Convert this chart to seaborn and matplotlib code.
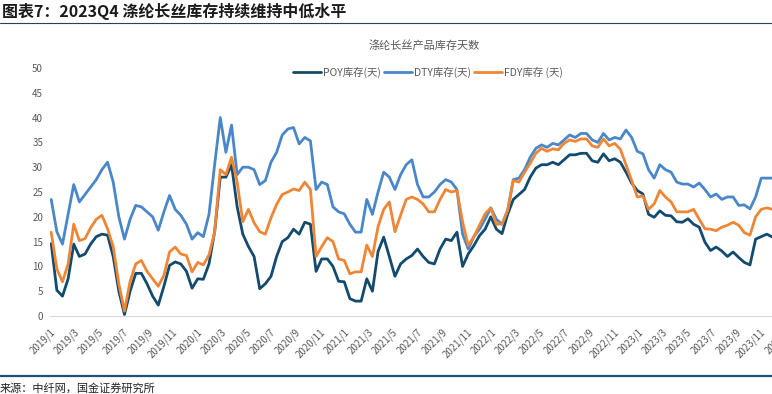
import pandas as pd
import numpy as np
import seaborn as sns
import matplotlib
matplotlib.use('Agg')
import matplotlib.pyplot as plt
import matplotlib.dates as mdates
from matplotlib.lines import Line2D
from matplotlib.ticker import FuncFormatter

# biweekly samples, 2019-01-04 .. 2023-12-01
start_date = '2019-01-04'
n_points = 129

poy = [14.6, 5.2, 4.0, 7.5, 14.5, 12.0, 12.5, 14.5, 16.0, 16.5,
       16.3, 12.0, 5.0, 0.3, 5.0, 8.6, 8.6, 6.5, 4.0, 2.2,
       6.0, 10.2, 10.9, 10.5, 9.0, 5.6, 7.5, 7.4, 10.5, 17.0,
       28.0, 28.0, 30.5, 22.0, 16.5, 14.0, 12.0, 5.5, 6.5, 8.0,
       12.0, 15.0, 15.8, 17.5, 16.5, 18.9, 18.5, 9.0, 11.5, 11.5,
       10.0, 7.0, 6.9, 3.5, 3.0, 3.0, 7.5, 5.0, 13.0, 15.9,
       12.0, 8.0, 10.5, 11.5, 12.2, 13.5, 12.0, 10.8, 10.5, 13.5,
       15.5, 15.2, 16.9, 10.0, 12.5, 14.2, 16.2, 17.5, 20.0, 17.5,
       16.6, 20.5, 23.5, 24.5, 25.5, 28.0, 29.8, 30.5, 30.5, 31.0,
       30.5, 31.5, 32.5, 32.5, 32.8, 32.8, 31.3, 31.0, 32.7, 31.3,
       31.7, 31.0, 29.0, 26.8, 25.3, 24.6, 20.5, 19.9, 21.2, 20.3,
       20.2, 19.0, 18.9, 19.6, 18.5, 17.9, 14.9, 13.2, 13.9, 13.1,
       12.0, 12.9, 11.8, 10.8, 10.3, 15.5, 16.0, 16.5, 15.9]

dty = [23.5, 17.0, 14.5, 20.5, 26.5, 23.0, 24.5, 26.0, 27.5, 29.5,
       31.0, 27.0, 20.0, 15.5, 19.5, 22.3, 22.0, 21.0, 20.0, 17.3,
       21.0, 24.3, 21.5, 20.3, 18.5, 15.5, 16.8, 16.0, 20.5, 30.5,
       40.0, 33.0, 38.5, 28.5, 30.0, 30.0, 29.5, 26.5, 27.3, 31.0,
       33.0, 36.5, 37.7, 38.0, 34.7, 36.0, 35.3, 25.5, 27.0, 26.5,
       22.0, 21.0, 20.6, 18.5, 16.9, 16.9, 23.5, 20.5, 25.0, 29.0,
       28.0, 25.5, 28.5, 30.5, 31.5, 26.5, 24.0, 24.0, 25.0, 26.5,
       27.5, 27.0, 25.5, 16.5, 13.5, 16.0, 17.5, 19.5, 21.8, 19.5,
       18.5, 21.3, 27.5, 27.8, 29.5, 32.0, 33.8, 34.5, 34.0, 34.8,
       34.5, 35.5, 36.5, 36.0, 36.8, 36.8, 35.5, 35.0, 36.8, 35.5,
       36.0, 35.7, 37.5, 36.0, 33.2, 32.7, 29.5, 27.8, 30.5, 29.5,
       29.0, 27.0, 26.6, 26.6, 26.0, 26.8, 25.5, 24.0, 24.6, 23.5,
       24.0, 24.0, 22.3, 22.4, 21.6, 24.0, 27.8, 27.8, 27.8]

fdy = [16.9, 9.5, 6.9, 10.5, 18.5, 15.2, 15.6, 17.8, 19.5, 20.3,
       17.6, 14.0, 6.5, 1.0, 7.0, 10.5, 11.2, 9.0, 7.5, 6.0,
       8.2, 12.9, 13.9, 12.5, 12.2, 8.9, 10.8, 10.3, 12.3, 16.9,
       29.5, 28.5, 32.0, 27.0, 19.0, 21.5, 18.8, 17.0, 16.5, 19.8,
       22.5, 24.5, 25.0, 25.6, 25.3, 27.0, 25.5, 12.0, 14.0, 15.8,
       15.0, 11.5, 11.2, 8.5, 8.9, 8.9, 14.3, 12.0, 18.0, 21.5,
       23.0, 17.0, 20.3, 23.5, 24.0, 23.5, 22.6, 21.0, 21.0, 23.5,
       25.5, 25.0, 25.3, 19.0, 14.2, 16.0, 18.3, 20.6, 21.8, 18.5,
       18.6, 21.3, 27.3, 27.0, 29.0, 30.8, 32.8, 33.8, 33.2, 33.7,
       33.5, 34.8, 35.5, 35.2, 35.7, 35.7, 34.3, 34.0, 35.7, 34.3,
       34.8, 33.6, 30.5, 27.3, 24.0, 24.2, 21.5, 22.6, 25.3, 24.0,
       23.0, 21.0, 21.0, 21.0, 21.5, 19.5, 17.6, 17.5, 17.2, 17.9,
       18.3, 18.9, 18.3, 16.8, 16.3, 20.0, 21.5, 21.8, 21.5]

series_names = ['POY库存(天)', 'DTY库存(天)', 'FDY库存 (天)']
series_colors = ['#124b6e', '#4a87c8', '#ef8636']

dates = pd.date_range(start_date, periods=n_points, freq='14D')
df = pd.concat([
    pd.DataFrame({'date': dates, 'value': poy, 'series': series_names[0]}),
    pd.DataFrame({'date': dates, 'value': dty, 'series': series_names[1]}),
    pd.DataFrame({'date': dates, 'value': fdy, 'series': series_names[2]}),
])

sns.set_style('white')
plt.rcParams['font.family'] = ['Noto Sans CJK SC', 'DejaVu Sans']

fig = plt.figure(figsize=(7.72, 3.94), dpi=100)
ax = fig.add_axes([50 / 772, 78 / 394, 735 / 772, 248 / 394])

sns.lineplot(data=df, x='date', y='value', hue='series', hue_order=series_names,
             palette=series_colors, linewidth=2.0, ax=ax)

handles, labels = ax.get_legend_handles_labels()
ax.get_legend().remove()

ax.set_xlim(pd.Timestamp('2019-01-01'), pd.Timestamp('2024-01-01'))
ax.set_ylim(0, 50)
ax.set_yticks(range(0, 51, 5))
ax.set_xlabel('')
ax.set_ylabel('')

ax.xaxis.set_major_locator(mdates.MonthLocator(bymonth=[1, 3, 5, 7, 9, 11]))
ax.xaxis.set_major_formatter(FuncFormatter(
    lambda x, pos: f"{mdates.num2date(x).year}/{mdates.num2date(x).month}"))

for s in ['top', 'right', 'left']:
    ax.spines[s].set_visible(False)
ax.spines['bottom'].set_color('#d9d9d9')
ax.spines['bottom'].set_linewidth(0.8)

ax.tick_params(axis='y', length=0, pad=5, labelsize=7, labelcolor='#595959')
ax.tick_params(axis='x', length=4, width=0.8, color='#d9d9d9', pad=4,
               labelsize=7, labelcolor='#595959')
for lab in ax.get_xticklabels():
    lab.set_rotation(45)
    lab.set_ha('right')
    lab.set_rotation_mode('anchor')

fig.legend(handles, labels, loc='center', bbox_to_anchor=(428 / 772, 1 - 72.5 / 394),
           ncol=3, frameon=False, fontsize=7.5, handlelength=2.7, handletextpad=0.2,
           columnspacing=0.3, labelcolor='#595959')

fig.text(424 / 772, 1 - 45 / 394, '涤纶长丝产品库存天数', ha='center', va='center',
         fontsize=8, color='#595959')

fig.text(0.002, 1 - 11 / 394, '图表7：2023Q4 涤纶长丝库存持续维持中低水平',
         ha='left', va='center', fontsize=11.5, fontweight='bold', style='italic',
         color='#1a1a1a')
fig.add_artist(Line2D([0, 1], [1 - 23 / 394] * 2, color='#2b3f5c', linewidth=0.8))
fig.add_artist(Line2D([0, 1], [1 - 376 / 394] * 2, color='#1f4e79', linewidth=1.6))
fig.text(0.0, 1 - 388 / 394, '来源：中纤网，国金证券研究所', ha='left', va='center',
         fontsize=8, color='#222222')

plt.savefig('out.png', dpi=100)
